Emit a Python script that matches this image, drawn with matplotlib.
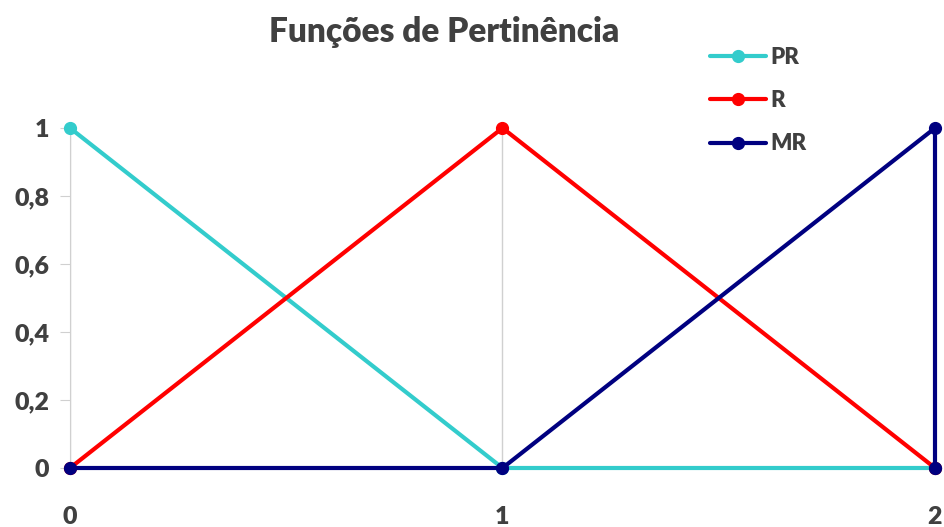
import matplotlib

matplotlib.use("Agg")
import matplotlib.pyplot as plt

# membership functions
x_pr = [0, 1, 2]
y_pr = [1, 0, 0]
x_r = [0, 1, 2]
y_r = [0, 1, 0]
x_mr = [0, 1, 2, 2]
y_mr = [0, 0, 1, 0]
yticks = [0, 0.2, 0.4, 0.6, 0.8, 1]
ytick_labels = ["0", "0,2", "0,4", "0,6", "0,8", "1"]
xticks = [0, 1, 2]

plt.rcParams["font.family"] = ["Lato", "DejaVu Sans"]
txt = "#404040"
grid = "#D0D0D0"

fig = plt.figure(figsize=(9.45, 5.27), dpi=100)
ax = fig.add_axes([70 / 945, 59 / 527, 865 / 945, 340 / 527])

series = [
    (x_pr, y_pr, "#33CCCC", "PR"),
    (x_r, y_r, "#FF0000", "R"),
    (x_mr, y_mr, "#000080", "MR"),
]
for xs, ys, c, lab in series:
    ax.plot(xs, ys, color=c, lw=3, marker="o", ms=8.5, label=lab,
            clip_on=False, zorder=3, solid_capstyle="round")

ax.set_xlim(0, 2)
ax.set_ylim(0, 1)
ax.set_xticks(xticks)
ax.set_xticklabels([str(v) for v in xticks])
ax.set_yticks(yticks)
ax.set_yticklabels(ytick_labels)
ax.tick_params(axis="y", length=7, color=grid, pad=8, labelsize=18,
               labelcolor=txt)
ax.tick_params(axis="x", length=0, pad=27, labelsize=18, labelcolor=txt)
for t in ax.get_xticklabels() + ax.get_yticklabels():
    t.set_fontweight("heavy")

ax.grid(axis="x", color=grid, lw=1)
ax.grid(axis="y", visible=False)
for s in ["top", "right", "bottom"]:
    ax.spines[s].set_visible(False)
ax.spines["left"].set_color(grid)

fig.text(0.470, 0.94, "Funções de Pertinência", ha="center", va="center",
         fontsize=24, fontweight="heavy", color=txt)

leg = ax.legend(loc="upper left", bbox_to_anchor=(690 / 945, 1 - 27 / 527),
                bbox_transform=fig.transFigure, frameon=False, fontsize=16,
                handlelength=2.5, labelspacing=1.0, handletextpad=0.2)
for t in leg.get_texts():
    t.set_fontweight("heavy")
    t.set_color(txt)

fig.savefig("out.png", dpi=100)
